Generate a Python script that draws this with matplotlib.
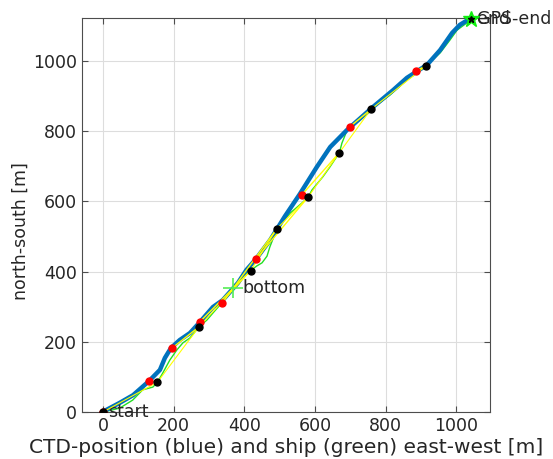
import numpy as np
import matplotlib
matplotlib.use('Agg')
import matplotlib.pyplot as plt

# CTD track (blue), east-west / north-south in m
ctd_x = [0, 47, 85, 130, 161, 175, 192, 217, 246, 274, 311, 339, 382, 406, 433,
         473, 515, 557, 605, 643, 690, 764, 821, 860, 917, 954, 988, 1010, 1039]
ctd_y = [1, 26, 48, 88, 120, 154, 182, 205, 225, 256, 299, 319, 368, 405, 436,
         490, 558, 621, 698, 755, 803, 869, 917, 952, 989, 1031, 1080, 1103, 1121]

# ship GPS track (green)
ship_x = [5, 47, 84, 112, 141, 154, 169, 189, 209, 226, 246, 272, 294, 311, 331,
          348, 368, 387, 404, 418, 435, 450, 464, 472, 484, 491, 530, 566, 581,
          591, 622, 642, 669, 676, 690, 704, 733, 758, 812, 860, 914, 954, 982,
          1002, 1025, 1042]
ship_y = [1, 11, 34, 63, 71, 85, 111, 148, 177, 197, 211, 243, 262, 282, 305,
          325, 348, 373, 393, 403, 416, 425, 444, 470, 501, 521, 567, 598, 613,
          632, 670, 698, 739, 766, 801, 815, 840, 862, 903, 946, 986, 1023, 1060,
          1088, 1105, 1120]

# CTD positions (red) and ship positions (black) at the same times
ctd_pt_x = [0, 130, 194, 274, 338, 433, 562, 699, 886]
ctd_pt_y = [0, 88, 181, 257, 311, 436, 618, 813, 972]
ship_pt_x = [0, 154, 272, 418, 491, 581, 669, 758, 914]
ship_pt_y = [0, 85, 243, 403, 521, 613, 739, 862, 986]

bottom_x, bottom_y = 368, 352
end_x, end_y = 1042, 1120

txt = '#262626'
fig = plt.figure(figsize=(5.53, 4.59), dpi=100)
ax = fig.add_axes([0.148, 0.1024, 0.738, 0.8573])

ax.plot(ship_x, ship_y, color='#22e022', lw=1.0, zorder=2)
ax.plot(ctd_x, ctd_y, color='#0072BD', lw=3.2, zorder=3, solid_capstyle='round')
ax.plot(ship_pt_x, ship_pt_y, color='yellow', lw=0.8, zorder=4)
for i in range(len(ctd_pt_x)):
    ax.plot([ctd_pt_x[i], ship_pt_x[i]], [ctd_pt_y[i], ship_pt_y[i]],
            color='yellow', lw=1.0, zorder=4)
ax.plot(ctd_pt_x, ctd_pt_y, 'o', color='red', ms=5, zorder=5)
ax.plot(ship_pt_x, ship_pt_y, 'o', color='black', ms=5, zorder=6)

ax.plot(bottom_x, bottom_y, '+', color='#55ee55', ms=14, mew=1.2, zorder=7)
ax.text(bottom_x + 25, bottom_y, 'bottom', fontsize=12.5, color=txt, va='center')
ax.text(14, 0, 'start', fontsize=12.5, color=txt, va='center')

ax.plot(end_x, end_y, '*', color='#11ee11', ms=12, zorder=7, clip_on=False)
ax.plot(end_x, end_y, '*', color='black', ms=5, zorder=8, clip_on=False)
ax.text(end_x + 16, end_y, 'end', fontsize=12.5, color=txt, va='center')
ax.text(end_x + 16, end_y, 'GPS-end', fontsize=12.5, color=txt, va='center')

ax.set_xlim(-60, 1095)
ax.set_ylim(0, 1121)
ax.set_xticks(np.arange(0, 1001, 200))
ax.set_yticks(np.arange(0, 1001, 200))
ax.grid(True, color='#dddddd', lw=0.8)
ax.set_axisbelow(True)
ax.tick_params(direction='in', top=True, right=True, labelsize=12.5,
               colors='#4d4d4d', labelcolor=txt, length=4)
for s in ax.spines.values():
    s.set_color('#4d4d4d')
    s.set_linewidth(0.8)
ax.set_xlabel('CTD-position (blue) and ship (green) east-west [m]', fontsize=14.5,
              color=txt, labelpad=2)
ax.set_ylabel('north-south [m]', fontsize=12.5, color=txt)
ax.yaxis.set_label_coords(-0.128, 0.46)

fig.savefig('out.png', dpi=100)
